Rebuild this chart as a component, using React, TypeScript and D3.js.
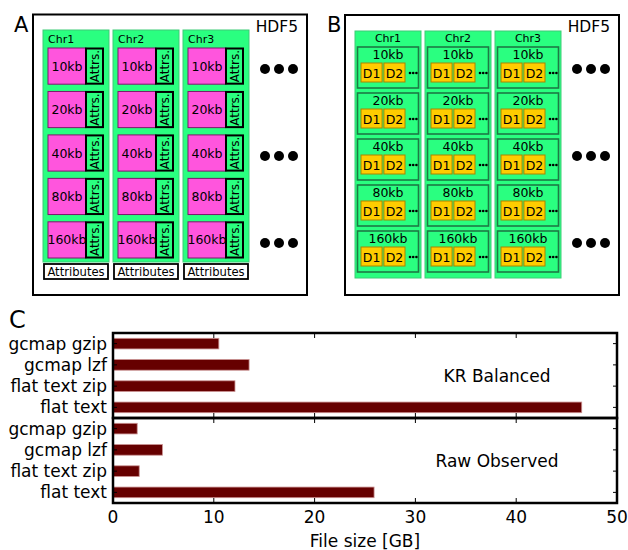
import React from 'react';
import * as d3 from 'd3';

// diagram labels
const chromosomes = ['Chr1', 'Chr2', 'Chr3'];
const resolutions = ['10kb', '20kb', '40kb', '80kb', '160kb'];
const datasets = ['D1', 'D2'];
const dotRows = ['10kb', '40kb', '160kb'];

// bar chart data (GB)
const methods = ['gcmap gzip', 'gcmap lzf', 'flat text zip', 'flat text'];
const krBalanced = [10.5, 13.5, 12.1, 46.5];
const rawObserved = [2.4, 4.9, 2.6, 25.9];
const panelNames = ['KR Balanced', 'Raw Observed'];
const xTicks = [0, 10, 20, 30, 40, 50];

const FONT = 'DejaVu Sans, sans-serif';
const GREEN = '#2aff80';
const PINK = '#ff55dd';
const GOLD = '#ffcc00';

// rows of panel A, also used for the "more chromosomes" dots in both panels
const rowA = d3.scaleBand<string>().domain(resolutions).range([48, 258]).paddingInner(0.1676);
const dotY = (r: string) => rowA(r)! + rowA.bandwidth() / 2 + 3;

const Dots = ({ x0 }: { x0: number }) => (
  <g>
    {dotRows.map(r => (
      <g key={r}>
        {[0, 1, 2].map(i => (
          <circle key={i} cx={x0 + i * 14} cy={dotY(r)} r={5} fill="black" />
        ))}
      </g>
    ))}
  </g>
);

const PanelA = () => {
  const col = d3.scaleBand<string>().domain(chromosomes).range([43, 249]).paddingInner(4 / 70);
  const w = col.bandwidth();
  const h = rowA.bandwidth();
  return (
    <g>
      <text x={14} y={32} fontSize={21}>A</text>
      <rect x={33} y={14.5} width={274} height={280.5} fill="white" stroke="black" strokeWidth={2} />
      <text x={298} y={32} fontSize={15.5} textAnchor="end">HDF5</text>
      {chromosomes.map(c => {
        const x = col(c)!;
        return (
          <g key={c}>
            <rect x={x} y={30} width={w} height={232} fill={GREEN} stroke="#3ccc76" strokeWidth={1} />
            <text x={x + 5} y={43} fontSize={11}>{c}</text>
            {resolutions.map(r => {
              const y = rowA(r)!;
              return (
                <g key={r}>
                  <rect x={x + 5} y={y} width={38} height={h} fill={PINK} stroke="#7a1a6a" strokeWidth={1} />
                  <text x={x + 24} y={y + h / 2 + 4.5} fontSize={12.5} textAnchor="middle">{r}</text>
                  <rect x={x + 43} y={y + 0.5} width={17} height={h - 1} fill={GREEN} stroke="black" strokeWidth={2} />
                  <text
                    transform={`translate(${x + 55.8},${y + h / 2}) rotate(-90)`}
                    fontSize={12}
                    textAnchor="middle"
                  >
                    Attrs.
                  </text>
                </g>
              );
            })}
            <rect x={x + 1} y={264} width={w - 2} height={15} fill="white" stroke="black" strokeWidth={1.8} />
            <text x={x + w / 2} y={276} fontSize={11.6} textAnchor="middle">Attributes</text>
          </g>
        );
      })}
      <Dots x0={265} />
    </g>
  );
};

const PanelB = () => {
  const col = d3.scaleBand<string>().domain(chromosomes).range([355, 561]).paddingInner(4 / 70);
  const row = d3.scaleBand<string>().domain(resolutions).range([47, 272]).paddingInner(0.1087);
  const w = col.bandwidth();
  const h = row.bandwidth();
  const dx = d3.scaleBand<string>().domain(datasets).range([0, 44]).paddingInner(0.08);
  return (
    <g>
      <text x={327} y={32} fontSize={21}>B</text>
      <rect x={345} y={15} width={274} height={280} fill="white" stroke="black" strokeWidth={2} />
      <text x={610} y={32} fontSize={15.5} textAnchor="end">HDF5</text>
      {chromosomes.map(c => {
        const x = col(c)!;
        return (
          <g key={c}>
            <rect x={x} y={31} width={w} height={247} fill={GREEN} stroke="#3ccc76" strokeWidth={1} />
            <text x={x + w / 2} y={42} fontSize={11} textAnchor="middle">{c}</text>
            {resolutions.map(r => {
              const y = row(r)!;
              return (
                <g key={r}>
                  <rect x={x + 2.5} y={y} width={w - 5} height={h} fill={GREEN} stroke="#1d7a45" strokeWidth={1.6} />
                  <text x={x + w / 2} y={y + 12} fontSize={12.5} textAnchor="middle">{r}</text>
                  {datasets.map(d => (
                    <g key={d}>
                      <rect x={x + 6 + dx(d)!} y={y + 16} width={dx.bandwidth()} height={19} fill={GOLD} stroke="#a88400" strokeWidth={1} />
                      <text x={x + 6 + dx(d)! + dx.bandwidth() / 2} y={y + 30.5} fontSize={12.5} textAnchor="middle">{d}</text>
                    </g>
                  ))}
                  {[0, 1, 2].map(i => (
                    <circle key={i} cx={x + 55 + i * 3.2} cy={y + 26} r={1.3} fill="black" />
                  ))}
                </g>
              );
            })}
          </g>
        );
      })}
      <Dots x0={577} />
    </g>
  );
};

const PanelC = () => {
  const x = d3.scaleLinear().domain([0, 50]).range([113, 617]);
  const panelTop = d3.scaleBand<string>().domain(panelNames).range([333, 503]);
  const ph = panelTop.bandwidth();
  const series = [krBalanced, rawObserved];
  return (
    <g>
      <text x={9} y={328} fontSize={24}>C</text>
      {panelNames.map((name, pi) => {
        const top = panelTop(name)!;
        const y = d3.scaleBand<string>().domain(methods).range([top, top + ph]).paddingInner(0.5).paddingOuter(0.25);
        const vals = series[pi];
        return (
          <g key={name}>
            {methods.map((m, i) => (
              <rect
                key={m}
                x={x(0)}
                y={y(m)!}
                width={x(vals[i]) - x(0)}
                height={y.bandwidth()}
                fill="#660000"
                stroke="#c99090"
                strokeWidth={0.8}
              />
            ))}
            {methods.map(m => {
              const cy = y(m)! + y.bandwidth() / 2;
              return (
                <g key={m}>
                  <line x1={x(0)} x2={x(0) + 4} y1={cy} y2={cy} stroke="black" />
                  <line x1={x(50) - 4} x2={x(50)} y1={cy} y2={cy} stroke="black" />
                  <text x={107} y={cy + 6} fontSize={17} textAnchor="end">{m}</text>
                </g>
              );
            })}
            {xTicks.slice(1, -1).map(t => (
              <g key={t}>
                <line x1={x(t)} x2={x(t)} y1={top} y2={top + 5} stroke="black" />
                <line x1={x(t)} x2={x(t)} y1={top + ph - 5} y2={top + ph} stroke="black" />
              </g>
            ))}
            <text x={497} y={top + ph / 2 + 6} fontSize={17} textAnchor="middle">{name}</text>
            <rect x={x(0)} y={top} width={x(50) - x(0)} height={ph} fill="none" stroke="black" strokeWidth={2.5} />
          </g>
        );
      })}
      {xTicks.map(t => (
        <text key={t} x={x(t)} y={523} fontSize={17} textAnchor="middle">{t}</text>
      ))}
      <text x={x(25)} y={547} fontSize={17} textAnchor="middle">File size [GB]</text>
    </g>
  );
};

const App = () => (
  <svg
    width={628}
    height={550}
    style={{ position: 'absolute', left: 0, top: 0, background: 'white' }}
    fontFamily={FONT}
  >
    <rect width={628} height={550} fill="white" />
    <PanelA />
    <PanelB />
    <PanelC />
  </svg>
);

export default App;
